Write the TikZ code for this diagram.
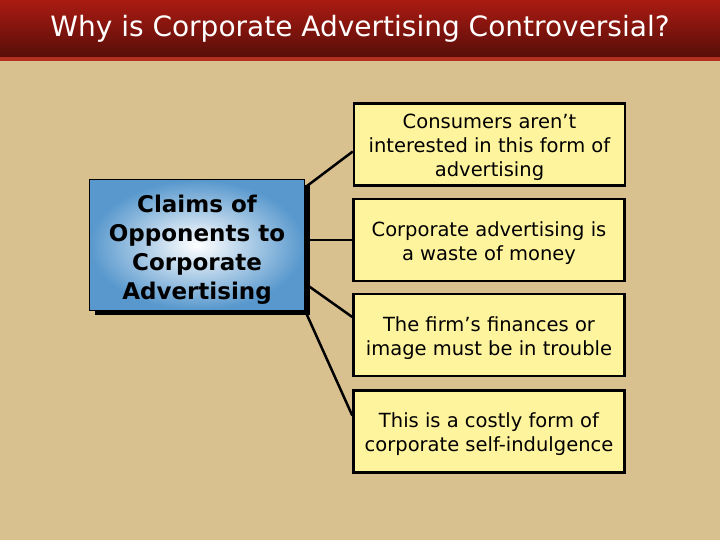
\documentclass[tikz,border=0pt]{standalone}
\usepackage{fontspec}
\setmainfont{DejaVu Sans}
\usetikzlibrary{shadows}
\definecolor{tanbg}{RGB}{217,192,143}
\definecolor{barTop}{RGB}{170,27,18}
\definecolor{barBot}{RGB}{88,14,9}
\definecolor{barLine}{RGB}{180,48,30}
\definecolor{claimBlue}{RGB}{88,152,205}
\definecolor{noteYellow}{RGB}{255,244,158}
\newcommand{\padtop}[1]{\rule{0pt}{#1}}
\begin{document}
\begin{tikzpicture}[x=1pt,y=1pt]
\tikzstyle{every node}+=[inner sep=0pt, align=center]
\tikzstyle{claimbox}=[draw=black, line width=1pt, minimum width=215pt, minimum height=130pt,
  inner color=white, outer color=claimBlue, font=\fontsize{23}{29}\selectfont\bfseries,
  drop shadow={shadow xshift=5pt, shadow yshift=-5pt, fill=black, opacity=1}]
\tikzstyle{notebox}=[draw=black, line width=2.5pt, fill=noteYellow, minimum width=271pt,
  minimum height=82pt, font=\fontsize{19.5}{24}\selectfont]
\tikzstyle{link}=[black, line width=2.5pt]
\useasboundingbox (0,0) rectangle (720,-540);
\fill [tanbg] (0,0) rectangle (720,-540);
\shade [top color=barTop, bottom color=barBot] (0,0) rectangle (720,-57);
\fill [barLine] (0,-57) rectangle (720,-61);
\node (title) at (360,-29) {\color{white}\fontsize{28}{32}\selectfont Why is Corporate Advertising Controversial?};
\node [claimbox] (claims) at (197,-245) {\padtop{26pt}Claims of\\Opponents to\\Corporate\\Advertising};
\node [notebox] (c1) at (489.5,-144.5) {\padtop{21pt}Consumers aren’t\\interested in this form of\\advertising};
\node [notebox] (c2) at (489,-240) {\padtop{21pt}Corporate advertising is\\a waste of money};
\node [notebox] (c3) at (489,-335) {\padtop{21pt}The firm’s finances or\\image must be in trouble};
\node [notebox] (c4) at (489,-431.5) {\padtop{21pt}This is a costly form of\\corporate self-indulgence};
\draw [link] ([yshift=-8pt]claims.north east) -- ([yshift=-7pt]c1.west);
\draw [link] ([yshift=5pt]claims.east) -- (c2.west);
\draw [link] ([yshift=27pt]claims.south east) -- ([yshift=18pt]c3.west);
\draw [link] (claims.south east) -- ([yshift=16pt]c4.west);
\end{tikzpicture}
\end{document}
